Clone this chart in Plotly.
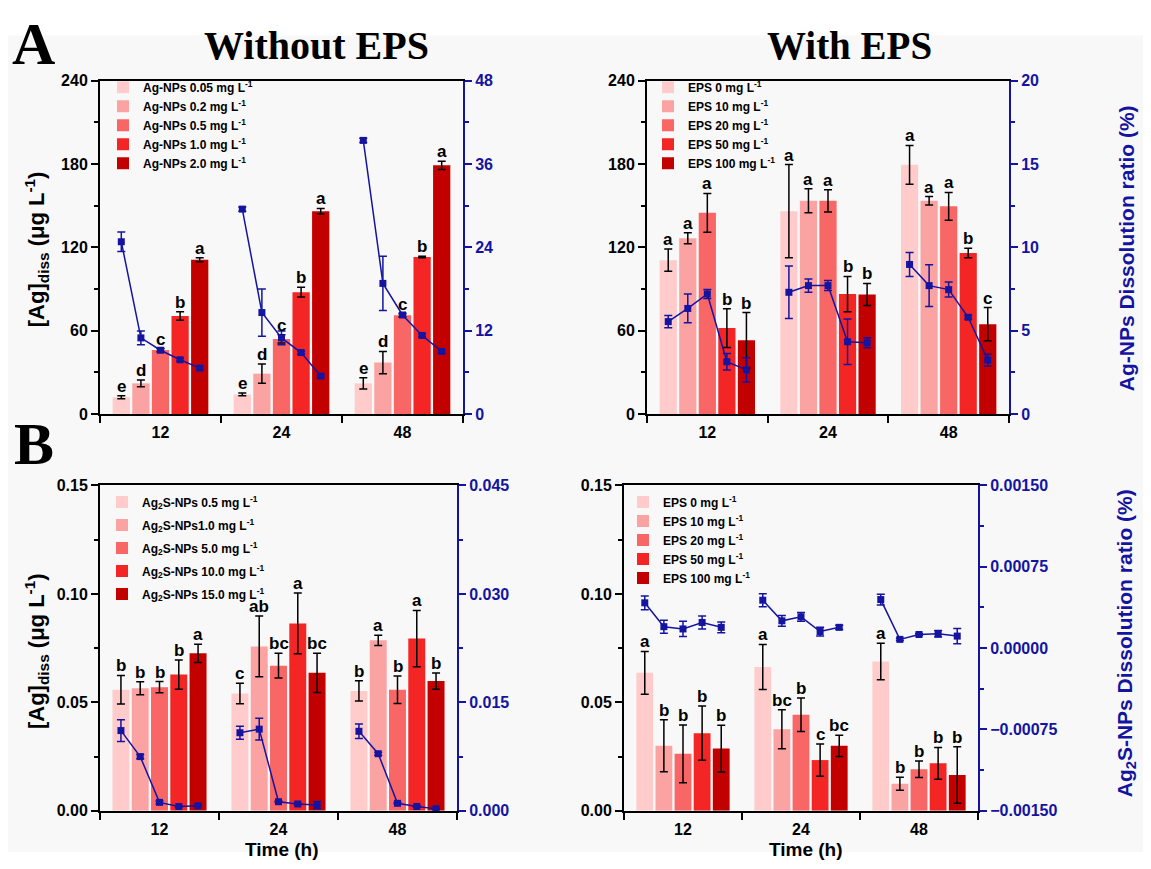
import plotly.graph_objects as go

# ---------------- data (rows = time group, columns = series) ----------------
TIMES = ["12", "24", "48"]

A_LEFT_NAMES = ["Ag-NPs 0.05 mg L<sup>-1</sup>", "Ag-NPs 0.2 mg L<sup>-1</sup>",
                "Ag-NPs 0.5 mg L<sup>-1</sup>", "Ag-NPs 1.0 mg L<sup>-1</sup>",
                "Ag-NPs 2.0 mg L<sup>-1</sup>"]
A_LEFT_BAR = [[12, 22, 46, 70.5, 111], [14, 29, 54, 87.7, 146], [22, 37, 71, 113, 179]]
A_LEFT_BAR_ERR = [[1, 2.5, 1, 3, 1.5], [1, 7, 3, 3.5, 2], [4, 8, 1, 0.5, 3]]
A_LEFT_LET = [["e", "d", "c", "b", "a"], ["e", "d", "c", "b", "a"], ["e", "d", "c", "b", "a"]]
A_LEFT_RATIO = [[24.8, 10.95, 9.17, 7.8, 6.6], [29.5, 14.6, 10.95, 8.84, 5.45],
                [39.4, 18.8, 14.25, 11.3, 9.0]]
A_LEFT_RATIO_ERR = [[1.4, 1.0, 0.3, 0.2, 0.2], [0.3, 3.4, 1.0, 0.2, 0.2], [0.3, 3.9, 0.3, 0.2, 0.2]]

EPS_NAMES = ["EPS 0 mg L<sup>-1</sup>", "EPS 10 mg L<sup>-1</sup>", "EPS 20 mg L<sup>-1</sup>",
             "EPS 50 mg L<sup>-1</sup>", "EPS 100 mg L<sup>-1</sup>"]
A_RIGHT_BAR = [[110.7, 126.5, 144.8, 61.8, 53], [146, 153.5, 153.5, 86.3, 86],
               [179.4, 153.5, 149.5, 115.9, 64.6]]
A_RIGHT_BAR_ERR = [[8, 4, 14, 14, 20], [33.6, 8.6, 8, 12.7, 8], [14, 3, 10, 3.5, 12]]
A_RIGHT_LET = [["a", "a", "a", "b", "b"], ["a", "a", "a", "b", "b"], ["a", "a", "a", "b", "c"]]
A_RIGHT_RATIO = [[5.54, 6.33, 7.2, 3.13, 2.64], [7.3, 7.7, 7.7, 4.33, 4.27],
                 [8.97, 7.7, 7.46, 5.8, 3.23]]
A_RIGHT_RATIO_ERR = [[0.37, 0.86, 0.27, 0.5, 0.73], [1.57, 0.4, 0.3, 1.37, 0.3],
                     [0.72, 1.25, 0.45, 0.1, 0.35]]

B_LEFT_NAMES = ["Ag<sub>2</sub>S-NPs 0.5 mg L<sup>-1</sup>", "Ag<sub>2</sub>S-NPs1.0 mg L<sup>-1</sup>",
                "Ag<sub>2</sub>S-NPs 5.0 mg L<sup>-1</sup>", "Ag<sub>2</sub>S-NPs 10.0 mg L<sup>-1</sup>",
                "Ag<sub>2</sub>S-NPs 15.0 mg L<sup>-1</sup>"]
B_LEFT_BAR = [[0.0558, 0.0565, 0.057, 0.0628, 0.0726], [0.0541, 0.0758, 0.0669, 0.0864, 0.0636],
              [0.0553, 0.0786, 0.0558, 0.0794, 0.0598]]
B_LEFT_BAR_ERR = [[0.0066, 0.003, 0.0026, 0.0067, 0.0042], [0.0047, 0.014, 0.0057, 0.014, 0.009],
                  [0.0047, 0.0024, 0.0063, 0.013, 0.0037]]
B_LEFT_LET = [["b", "b", "b", "b", "a"], ["c", "ab", "bc", "a", "bc"], ["b", "a", "b", "a", "b"]]
B_LEFT_RATIO = [[0.0111, 0.0075, 0.00117, 0.0006, 0.0007], [0.0108, 0.0113, 0.00126, 0.00095, 0.0008],
                [0.011, 0.0079, 0.00104, 0.0006, 0.0003]]
B_LEFT_RATIO_ERR = [[0.0015, 0.0003, 0.0002, 0.0001, 0.0001], [0.0009, 0.0015, 0.0001, 0.0001, 0.0005],
                    [0.001, 0.0002, 0.0001, 0.0001, 0.0001]]

B_RIGHT_BAR = [[0.0636, 0.030, 0.0263, 0.0358, 0.0287], [0.0663, 0.0376, 0.0443, 0.0234, 0.030],
               [0.0688, 0.0125, 0.0192, 0.0219, 0.0165]]
B_RIGHT_BAR_ERR = [[0.0099, 0.012, 0.0133, 0.0125, 0.0108], [0.0104, 0.009, 0.0077, 0.0074, 0.0049],
                   [0.0084, 0.003, 0.0038, 0.0073, 0.013]]
B_RIGHT_LET = [["a", "b", "b", "b", "b"], ["a", "bc", "b", "c", "bc"], ["a", "b", "b", "b", "b"]]
B_RIGHT_RATIO = [[0.000418, 0.000198, 0.000177, 0.000237, 0.000192],
                 [0.000442, 0.000252, 0.000289, 0.000153, 0.000192],
                 [0.000448, 0.000081, 0.000126, 0.000132, 0.000111]]
B_RIGHT_RATIO_ERR = [[0.000063, 0.00006, 0.00007, 0.00006, 0.00005],
                     [0.00006, 0.00005, 0.00004, 0.00004, 0.00002],
                     [0.00005, 0.00001, 0.00001, 0.00003, 0.00007]]

BAR_COLORS = ["#FFCBCB", "#FBA3A3", "#F86666", "#F42525", "#C30000"]
BLUE = "#1414A0"

# ---------------- layout helpers ----------------
W, H = 1151, 869          # browser window
OFF = 8                   # default page body margin
FW, FH = W - 2 * OFF, H - 2 * OFF
BARGAP = 0.19
BARGROUPGAP = 0.12
NSER = 5
SLOT = (1 - BARGAP) / NSER
FONT = "Liberation Sans, Arial, sans-serif"
SERIF = "Liberation Serif, Times New Roman, serif"


def px(x):
    return (x - OFF) / FW


def py(y):
    return 1 - (y - OFF) / FH


def xd(a, b):
    return [px(a), px(b)]


def yd(top, bottom):
    return [py(bottom), py(top)]


panels = [
    dict(names=A_LEFT_NAMES, bar=A_LEFT_BAR, berr=A_LEFT_BAR_ERR, let=A_LEFT_LET,
         ratio=A_LEFT_RATIO, rerr=A_LEFT_RATIO_ERR, xdom=xd(100, 463), ydom=yd(74, 414),
         yl=dict(range=[0, 240], dtick=60, minor=30, fmt=""),
         yr=dict(range=[0, 48], dtick=12, minor=6, fmt=""), leg=(103, 66), gap=0),
    dict(names=EPS_NAMES, bar=A_RIGHT_BAR, berr=A_RIGHT_BAR_ERR, let=A_RIGHT_LET,
         ratio=A_RIGHT_RATIO, rerr=A_RIGHT_RATIO_ERR, xdom=xd(647, 1009), ydom=yd(74, 414),
         yl=dict(range=[0, 240], dtick=60, minor=30, fmt=""),
         yr=dict(range=[0, 20], dtick=5, minor=2.5, fmt=""), leg=(648, 66), gap=0),
    dict(names=B_LEFT_NAMES, bar=B_LEFT_BAR, berr=B_LEFT_BAR_ERR, let=B_LEFT_LET,
         ratio=B_LEFT_RATIO, rerr=B_LEFT_RATIO_ERR, xdom=xd(100, 457), ydom=yd(487, 819),
         yl=dict(range=[0, 0.15], dtick=0.05, minor=0.025, fmt=".2f"),
         yr=dict(range=[0, 0.045], dtick=0.015, minor=0.0075, fmt=".3f"), leg=(102, 489), gap=4),
    dict(names=EPS_NAMES, bar=B_RIGHT_BAR, berr=B_RIGHT_BAR_ERR, let=B_RIGHT_LET,
         ratio=B_RIGHT_RATIO, rerr=B_RIGHT_RATIO_ERR, xdom=xd(624, 978), ydom=yd(487, 819),
         yl=dict(range=[0, 0.15], dtick=0.05, minor=0.025, fmt=".2f"),
         yr=dict(range=[-0.0015, 0.0015], dtick=0.00075, minor=0.000375, fmt=".5f"), leg=(623, 489), gap=0),
]

fig = go.Figure()
layout = {}
ann = []

for k, p in enumerate(panels, start=1):
    xa = "x" if k == 1 else f"x{k}"
    yl = "y" if k == 1 else f"y{k}"
    yr = f"y{k + 4}"
    legname = "legend" if k == 1 else f"legend{k}"
    groups = list(range(len(TIMES)))

    # bars
    for i in range(NSER):
        fig.add_trace(go.Bar(
            x=groups, y=[row[i] for row in p["bar"]], name=p["names"][i],
            marker=dict(color=BAR_COLORS[i], line=dict(width=0)),
            textposition="none",
            error_y=dict(type="data", array=[row[i] for row in p["berr"]],
                         color="black", thickness=1.5, width=4),
            legendgroup=f"p{k}s{i}",
            xaxis=xa, yaxis=yl, legend=legname))

    # significance letters (data-anchored annotations above the error bars)
    for g in groups:
        for i in range(NSER):
            ann.append(dict(
                x=g + (i - (NSER - 1) / 2) * SLOT, y=p["bar"][g][i] + p["berr"][g][i],
                xref=xa, yref=yl, text=p["let"][g][i], showarrow=False,
                xanchor="center", yanchor="bottom", yshift=-2,
                font=dict(family=FONT, size=17, color="black", weight="bold")))

    # dissolution ratio lines (one per time group)
    for g in groups:
        fig.add_trace(go.Scatter(
            x=[g + (i - (NSER - 1) / 2) * SLOT for i in range(NSER)],
            y=p["ratio"][g], mode="lines+markers",
            line=dict(color=BLUE, width=1.5),
            marker=dict(symbol="square", size=7, color=BLUE),
            error_y=dict(type="data", array=p["rerr"][g], color=BLUE, thickness=1.5, width=4),
            showlegend=False, xaxis=xa, yaxis=yr, cliponaxis=False))

    xkey = "xaxis" if k == 1 else f"xaxis{k}"
    ylkey = "yaxis" if k == 1 else f"yaxis{k}"
    yrkey = f"yaxis{k + 4}"
    layout[xkey] = dict(
        domain=p["xdom"], anchor=yl, range=[-0.5, 2.5],
        tickmode="array", tickvals=groups, ticktext=TIMES,
        ticks="outside", ticklen=3, tickcolor="rgba(0,0,0,0)",
        minor=dict(tickmode="array", tickvals=[-0.5, 0.5, 1.5, 2.5], ticks="outside",
                   ticklen=7, tickwidth=2, tickcolor="black"),
        showline=True, linecolor="black", linewidth=2, mirror=True,
        showgrid=False, zeroline=False,
        tickfont=dict(family=FONT, size=16, color="black", weight="bold"))
    layout[ylkey] = dict(
        domain=p["ydom"], anchor=xa, range=p["yl"]["range"], dtick=p["yl"]["dtick"],
        tick0=p["yl"]["range"][0], tickformat=p["yl"]["fmt"],
        ticks="outside", ticklen=7, tickwidth=2, tickcolor="black",
        minor=dict(dtick=p["yl"]["minor"], ticks="outside", ticklen=4, tickwidth=1.5, tickcolor="black"),
        showline=True, linecolor="black", linewidth=2, showgrid=False, zeroline=False,
        tickfont=dict(family=FONT, size=16, color="black", weight="bold"))
    layout[yrkey] = dict(
        overlaying=yl, side="right", anchor=xa,
        range=p["yr"]["range"], dtick=p["yr"]["dtick"], tick0=p["yr"]["range"][0],
        tickformat=p["yr"]["fmt"],
        ticks="outside", ticklen=7, tickwidth=2, tickcolor=BLUE,
        minor=dict(dtick=p["yr"]["minor"], ticks="outside", ticklen=4, tickwidth=1.5, tickcolor=BLUE),
        showline=True, linecolor=BLUE, linewidth=2, showgrid=False, zeroline=False,
        tickfont=dict(family=FONT, size=16, color=BLUE, weight="bold"))
    layout[legname] = dict(
        x=px(p["leg"][0]), y=py(p["leg"][1]), xanchor="left", yanchor="top",
        bgcolor="rgba(0,0,0,0)", tracegroupgap=p["gap"], itemwidth=30,
        font=dict(family=FONT, size=12, color="black", weight="bold"))


def add_text(text, x, y, size, family=FONT, color="black", angle=0):
    ann.append(dict(text=text, x=px(x), y=py(y), xref="paper", yref="paper",
                    showarrow=False, textangle=angle, xanchor="center", yanchor="middle",
                    font=dict(family=family, size=size, color=color, weight="bold")))


add_text("A", 33, 37, 60, family=SERIF)
add_text("B", 34, 445, 60, family=SERIF)
add_text("Without EPS", 317, 38, 40, family=SERIF)
add_text("With EPS", 850, 38, 39, family=SERIF)
add_text("[Ag]<sub>diss</sub> (μg L<sup>-1</sup>)", 36, 246, 22, angle=-90)
add_text("[Ag]<sub>diss</sub> (μg L<sup>-1</sup>)", 36, 656, 22, angle=-90)
add_text("Ag-NPs Dissolution ratio (%)", 1126, 245, 21, color=BLUE, angle=-90)
add_text("Ag<sub>2</sub>S-NPs Dissolution ratio (%)", 1126, 648, 21, color=BLUE, angle=-90)
add_text("Time (h)", 282, 858, 19)
add_text("Time (h)", 806, 858, 19)

fig.update_layout(
    width=FW, height=FH, margin=dict(l=0, r=0, t=0, b=0),
    paper_bgcolor="white", plot_bgcolor="rgba(0,0,0,0)",
    barmode="group", bargap=BARGAP, bargroupgap=BARGROUPGAP,
    annotations=ann,
    shapes=[dict(type="rect", xref="paper", yref="paper", x0=0, x1=1, y0=0, y1=py(28),
                 fillcolor="#F8F8F8", line=dict(width=0), layer="below")],
    **layout)

fig.write_html("out.html")
